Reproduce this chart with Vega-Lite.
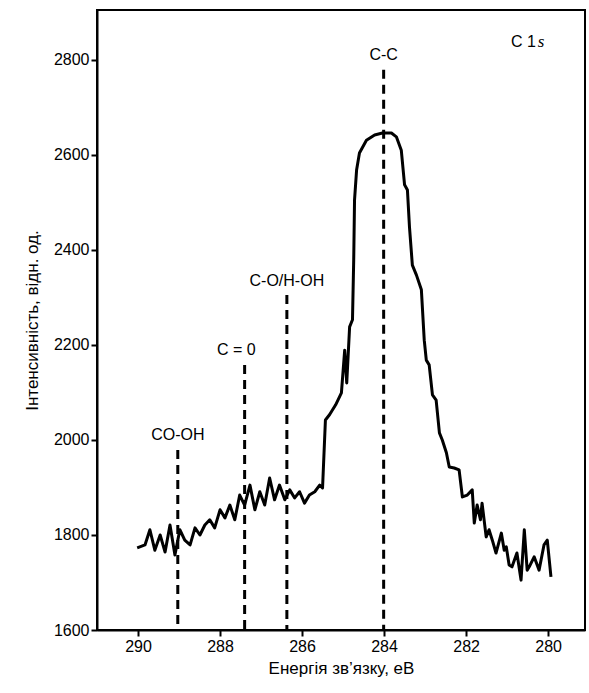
{
  "$schema": "https://vega.github.io/schema/vega-lite/v6.json",
  "width": 488,
  "height": 620,
  "autosize": "none",
  "padding": {"left": 97, "top": 10, "right": 4, "bottom": 63},
  "background": "white",
  "config": {
    "view": {"stroke": "black", "strokeWidth": 2},
    "font": "Liberation Sans",
    "axis": {"grid": false, "domainColor": "black", "domainWidth": 2, "tickColor": "black", "tickWidth": 2, "tickSize": 6,
      "labelColor": "black", "labelFontSize": 16, "labelFont": "Liberation Sans", "titleFont": "Liberation Sans",
      "titleFontSize": 17, "titleFontWeight": "normal", "titleColor": "black", "format": "d"}
  },
  "datasets": {
    "spectrum": [
      {"e":290.02,"i":1773},{"e":289.83,"i":1779},{"e":289.71,"i":1811},{"e":289.59,"i":1768},{"e":289.46,"i":1800},
      {"e":289.34,"i":1764},{"e":289.22,"i":1821},{"e":289.10,"i":1758},{"e":288.98,"i":1811},{"e":288.86,"i":1789},
      {"e":288.73,"i":1779},{"e":288.61,"i":1815},{"e":288.49,"i":1800},{"e":288.37,"i":1821},{"e":288.25,"i":1832},
      {"e":288.13,"i":1815},{"e":288.00,"i":1853},{"e":287.88,"i":1836},{"e":287.76,"i":1863},{"e":287.64,"i":1832},
      {"e":287.52,"i":1884},{"e":287.40,"i":1863},{"e":287.27,"i":1905},{"e":287.15,"i":1853},{"e":287.03,"i":1891},
      {"e":286.91,"i":1863},{"e":286.79,"i":1920},{"e":286.67,"i":1874},{"e":286.55,"i":1905},{"e":286.42,"i":1874},
      {"e":286.30,"i":1895},{"e":286.18,"i":1878},{"e":286.06,"i":1891},{"e":285.94,"i":1867},{"e":285.82,"i":1884},
      {"e":285.69,"i":1891},{"e":285.57,"i":1905},{"e":285.50,"i":1899},{"e":285.43,"i":2042},{"e":285.33,"i":2053},
      {"e":285.18,"i":2074},{"e":285.04,"i":2099},{"e":284.96,"i":2189},{"e":284.91,"i":2120},{"e":284.84,"i":2238},
      {"e":284.77,"i":2253},{"e":284.74,"i":2379},{"e":284.72,"i":2505},{"e":284.67,"i":2568},{"e":284.60,"i":2604},
      {"e":284.43,"i":2631},{"e":284.23,"i":2642},{"e":284.04,"i":2646},{"e":283.82,"i":2646},{"e":283.70,"i":2638},
      {"e":283.58,"i":2610},{"e":283.50,"i":2537},{"e":283.43,"i":2526},{"e":283.38,"i":2448},{"e":283.31,"i":2368},
      {"e":283.21,"i":2347},{"e":283.09,"i":2316},{"e":283.02,"i":2210},{"e":282.97,"i":2168},{"e":282.90,"i":2158},
      {"e":282.82,"i":2095},{"e":282.73,"i":2084},{"e":282.65,"i":2015},{"e":282.58,"i":2000},{"e":282.48,"i":1973},
      {"e":282.41,"i":1943},{"e":282.29,"i":1941},{"e":282.17,"i":1937},{"e":282.09,"i":1880},{"e":281.97,"i":1884},
      {"e":281.85,"i":1895},{"e":281.80,"i":1825},{"e":281.73,"i":1863},{"e":281.65,"i":1832},{"e":281.61,"i":1867},
      {"e":281.51,"i":1796},{"e":281.44,"i":1811},{"e":281.36,"i":1789},{"e":281.27,"i":1762},{"e":281.14,"i":1804},
      {"e":281.07,"i":1768},{"e":281.02,"i":1775},{"e":280.95,"i":1737},{"e":280.88,"i":1733},{"e":280.76,"i":1762},
      {"e":280.66,"i":1705},{"e":280.58,"i":1811},{"e":280.51,"i":1726},{"e":280.46,"i":1733},{"e":280.34,"i":1754},
      {"e":280.22,"i":1726},{"e":280.10,"i":1779},{"e":280.02,"i":1789},{"e":279.93,"i":1712}
    ],
    "peaks": [
      {"e":289.03,"top":1979,"label":"CO-OH","ly":2010},
      {"e":287.40,"top":2158,"label":"C = 0","ly":2190,"lx":287.6},
      {"e":286.37,"top":2305,"label":"C-O/H-OH","ly":2335},
      {"e":284.01,"top":2779,"label":"C-C","ly":2810}
    ]
  },
  "layer": [
    {
      "data": {"name": "peaks"},
      "mark": {"type": "rule", "color": "black", "strokeWidth": 3, "strokeDash": [9, 6]},
      "encoding": {
        "x": {"field": "e", "type": "quantitative"},
        "y": {"field": "top", "type": "quantitative"},
        "y2": {"datum": 1600}
      }
    },
    {
      "data": {"name": "peaks"},
      "transform": [{"calculate": "datum.lx ? datum.lx : datum.e", "as": "tx"}],
      "mark": {"type": "text", "fontSize": 16, "font": "Liberation Sans", "color": "black", "baseline": "middle"},
      "encoding": {
        "x": {"field": "tx", "type": "quantitative"},
        "y": {"field": "ly", "type": "quantitative"},
        "text": {"field": "label"}
      }
    },
    {
      "data": {"values": [{"e": 280.3, "i": 2838}]},
      "mark": {"type": "text", "fontSize": 16, "font": "Liberation Sans", "color": "black", "align": "right", "baseline": "middle", "text": "C 1"},
      "encoding": {"x": {"field": "e", "type": "quantitative"}, "y": {"field": "i", "type": "quantitative"}}
    },
    {
      "data": {"values": [{"e": 280.25, "i": 2838}]},
      "mark": {"type": "text", "fontSize": 17, "fontStyle": "italic", "font": "Liberation Serif", "color": "black", "align": "left", "baseline": "middle", "text": "s"},
      "encoding": {"x": {"field": "e", "type": "quantitative"}, "y": {"field": "i", "type": "quantitative"}}
    },
    {
      "data": {"name": "spectrum"},
      "mark": {"type": "line", "color": "black", "strokeWidth": 3, "strokeJoin": "round"},
      "encoding": {
        "x": {"field": "e", "type": "quantitative", "sort": null,
          "scale": {"domain": [291, 279.1], "nice": false, "zero": false},
          "axis": {"values": [290, 288, 286, 284, 282, 280], "title": "Енергія зв’язку, еВ", "titlePadding": 6}},
        "y": {"field": "i", "type": "quantitative",
          "scale": {"domain": [1600, 2905], "nice": false, "zero": false},
          "axis": {"values": [1600, 1800, 2000, 2200, 2400, 2600, 2800], "title": "Інтенсивність, відн. од.", "titlePadding": 12}}
      }
    }
  ]
}
